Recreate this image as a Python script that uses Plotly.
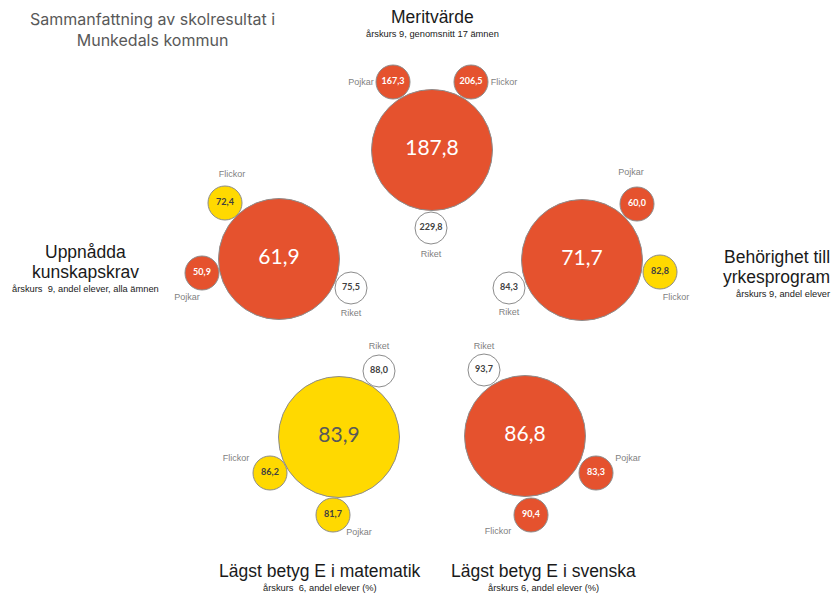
import plotly.graph_objects as go

# ---------------- data ----------------
groups = ["Meritvärde", "Uppnådda kunskapskrav", "Behörighet till yrkesprogram",
          "Lägst betyg E i matematik", "Lägst betyg E i svenska"]
kommun = [187.8, 61.9, 71.7, 83.9, 86.8]
pojkar = [167.3, 50.9, 60.0, 81.7, 83.3]
flickor = [206.5, 72.4, 82.8, 86.2, 90.4]
riket = [229.8, 75.5, 84.3, 88.0, 93.7]
title_lines = [["Meritvärde"], ["Uppnådda", "kunskapskrav"], ["Behörighet till", "yrkesprogram"],
               ["Lägst betyg E i matematik"], ["Lägst betyg E i svenska"]]
subtitles = ["årskurs 9, genomsnitt 17 ämnen", "årskurs  9, andel elever, alla ämnen",
             "årskurs 9, andel elever", "årskurs  6, andel elever (%)", "årskurs 6, andel elever (%)"]
main_title = "Sammanfattning av skolresultat i<br>Munkedals kommun"

# ---------------- style / layout ----------------
ORANGE = "#E5522E"
YELLOW = "#FFD900"
WHITE = "#FFFFFF"
col = {"o": ORANGE, "y": YELLOW, "w": WHITE}
kommun_col = ["o", "o", "o", "y", "o"]
pojkar_col = ["o", "o", "o", "y", "o"]
flickor_col = ["o", "y", "y", "y", "o"]

centers = [(432, 150), (279, 259), (582, 260), (339, 437), (525, 436)]
# offsets (dx, dy) of satellite bubbles: pojkar, flickor, riket
off_p = [(-39, -68), (-77, 14), (55, -56), (-6, 78), (71, 37)]
off_f = [(39, -68), (-54, -56), (78, 12), (-69, 36), (6, 79)]
off_r = [(-1, 78), (72, 29), (-73, 28), (40, -66), (-41, -66)]
# label offsets relative to satellite center
lab_p = [(-32, 1), (-15, 25), (-6, -31), (26, 18), (32, -14)]
lab_f = [(33, 1), (7, -28), (16, 26), (-34, -14), (-33, 17)]
lab_r = [(0, 27), (0, 26), (0, 25), (0, -24), (0, -23)]
title_pos = [(432, 17, "center"), (85, 252, "center"), (832, 257, "right"),
             (320, 571, "center"), (543, 571, "center")]

BIG = 121
SMALL = 34
RIK = 32
W, H = 840, 596

def fmt(v):
    return f"{v:.1f}".replace(".", ",")

xs, ys, sizes, fills, texts, tcols, tsizes = [], [], [], [], [], [], []
for i in range(len(groups)):
    cx, cy = centers[i]
    xs.append(cx); ys.append(cy); sizes.append(BIG); fills.append(col[kommun_col[i]])
    texts.append(fmt(kommun[i])); tcols.append("#FFFFFF" if kommun_col[i] == "o" else "#595959"); tsizes.append(21)
    for vals, offs, cc, sz in ((pojkar, off_p, pojkar_col, SMALL), (flickor, off_f, flickor_col, SMALL),
                               (riket, off_r, ["w"] * 5, RIK)):
        dx, dy = offs[i]
        c = cc[i]
        xs.append(cx + dx); ys.append(cy + dy); sizes.append(sz); fills.append(col[c])
        texts.append("<b>" + fmt(vals[i]) + "</b>")
        tcols.append("#FFFFFF" if c == "o" else "#404040"); tsizes.append(9)

fig = go.Figure()
fig.add_trace(go.Scatter(
    x=xs, y=ys, mode="markers+text", text=texts, textposition="middle center",
    textfont=dict(family="Lato", color=tcols, size=tsizes),
    marker=dict(size=sizes, color=fills, opacity=1, line=dict(color="#8C8C8C", width=1)),
    hoverinfo="skip", showlegend=False, cliponaxis=False,
))

lx, ly, lt = [], [], []
for i in range(len(groups)):
    cx, cy = centers[i]
    for name, offs, labs in (("Pojkar", off_p, lab_p), ("Flickor", off_f, lab_f), ("Riket", off_r, lab_r)):
        lx.append(cx + offs[i][0] + labs[i][0]); ly.append(cy + offs[i][1] + labs[i][1]); lt.append(name)
fig.add_trace(go.Scatter(x=lx, y=ly, mode="text", text=lt, textposition="middle center",
                         textfont=dict(family="Liberation Sans", size=9, color="#7F7F7F"),
                         hoverinfo="skip", showlegend=False, cliponaxis=False))

annotations = []
for i in range(len(groups)):
    x, y, al = title_pos[i]
    lines = title_lines[i]
    n = len(lines)
    for k, line in enumerate(lines):
        annotations.append(dict(x=x, y=y + 20 * k, text=line, showarrow=False, xanchor=al, yanchor="middle",
                                font=dict(family="Liberation Sans", size=17.5, color="#1A1A1A")))
    annotations.append(dict(x=x, y=y + 20 * (n - 1) + 17, text=subtitles[i], showarrow=False, xanchor=al,
                            yanchor="middle", font=dict(family="Liberation Sans", size=9.3, color="#1A1A1A")))

annotations.append(dict(x=152, y=29, text=main_title, showarrow=False, xanchor="center", yanchor="middle",
                        align="center", font=dict(family="Inter", size=16, color="#595959")))

fig.update_layout(
    width=W, height=H, margin=dict(l=0, r=0, t=0, b=0),
    paper_bgcolor="white", plot_bgcolor="white",
    xaxis=dict(range=[0, W], visible=False, fixedrange=True),
    yaxis=dict(range=[H, 0], visible=False, fixedrange=True),
    annotations=annotations,
)
fig.write_html("out.html", config={"displayModeBar": False},
               post_script="document.body.style.margin='0';document.body.style.overflow='hidden';")
